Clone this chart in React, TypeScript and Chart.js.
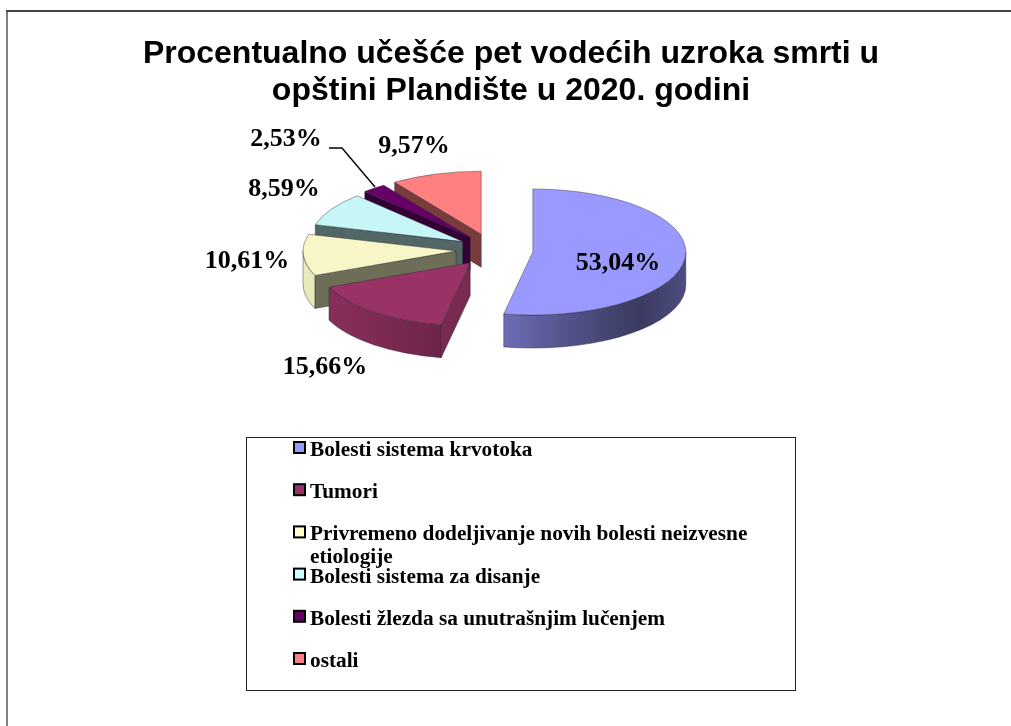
import React, { useEffect, useRef } from "react";
import { Chart, registerables } from "chart.js";

Chart.register(...registerables);

const categories: (string | string[])[] = [
  "Bolesti sistema krvotoka",
  "Tumori",
  ["Privremeno dodeljivanje novih bolesti neizvesne", "etiologije"],
  "Bolesti sistema za disanje",
  "Bolesti žlezda sa unutrašnjim lučenjem",
  "ostali",
];
const shares = [53.04, 15.66, 10.61, 8.59, 2.53, 9.57];
const titleLines = [
  "Procentualno učešće pet vodećih uzroka smrti u",
  "opštini Plandište u 2020. godini",
];
const sliceColors = ["#9999FF", "#993366", "#F8F6C6", "#C6F6F6", "#660066", "#FF8080"];
const swatchColors = ["#9999FF", "#993366", "#FFFFCC", "#CCFFFF", "#660066", "#FF8080"];
const explodeBy = [42, 33, 35, 33, 33, 33];
const edgeWallShade = [0.5, 0.8, 0.43, 0.4, 0.5, 0.47];
const labelAnchors = [
  [618, 263],
  [325, 367],
  [247, 261],
  [284, 189],
  [286, 139],
  [414, 146],
];

const PIE_X = 491;
const PIE_Y = 250;
const TILT = 0.412;
const EXPLODE_TILT = 0.5;
const DEPTH = 33;

const rgb = (hex: string) => [1, 3, 5].map((i) => parseInt(hex.slice(i, i + 2), 16));
const shade = (hex: string, f: number) => {
  const [r, g, b] = rgb(hex);
  return `rgb(${Math.round(r * f)},${Math.round(g * f)},${Math.round(b * f)})`;
};
const fmt = (v: number) => v.toFixed(2).replace(".", ",") + "%";

const pie3d = {
  id: "pie3d",
  beforeDatasetDraw(chart: any) {
    const ctx: CanvasRenderingContext2D = chart.ctx;
    const arcs = chart.getDatasetMeta(0).data;
    for (let i = arcs.length - 1; i >= 0; i--) {
      const arc = arcs[i];
      const color = swatchColors[i];
      const r = arc.outerRadius;
      const a = arc.startAngle;
      const b = arc.endAngle;
      const h = (a + b) / 2;
      const ax = PIE_X + Math.cos(h) * explodeBy[i];
      const ay = PIE_Y + Math.sin(h) * explodeBy[i] * EXPLODE_TILT;
      const px = (t: number) => ax + Math.cos(t) * r;
      const py = (t: number) => ay + Math.sin(t) * r * TILT;
      ctx.save();
      ctx.lineWidth = 0.7;
      ctx.strokeStyle = "rgba(40,40,50,0.65)";
      // flat side walls: only those whose outward normal faces the viewer
      const faces: [number, number][] = [
        [a, a - Math.PI / 2],
        [b, b + Math.PI / 2],
      ];
      faces.forEach(([t, normal]) => {
        if (Math.sin(normal) <= 0.001) return;
        ctx.beginPath();
        ctx.moveTo(ax, ay);
        ctx.lineTo(px(t), py(t));
        ctx.lineTo(px(t), py(t) + DEPTH);
        ctx.lineTo(ax, ay + DEPTH);
        ctx.closePath();
        ctx.fillStyle = shade(color, edgeWallShade[i]);
        ctx.fill();
        ctx.stroke();
      });
      // curved outer wall, only the part that faces the viewer
      const from = Math.max(a, 0);
      const to = Math.min(b, Math.PI);
      if (to > from) {
        const g = ctx.createLinearGradient(ax - r, 0, ax + r, 0);
        g.addColorStop(0, shade(color, 0.92));
        g.addColorStop(0.4, shade(color, 0.72));
        g.addColorStop(0.6, shade(color, 0.55));
        g.addColorStop(0.85, shade(color, 0.38));
        g.addColorStop(1, shade(color, 0.5));
        ctx.beginPath();
        ctx.ellipse(ax, ay, r, r * TILT, 0, from, to);
        ctx.ellipse(ax, ay + DEPTH, r, r * TILT, 0, to, from, true);
        ctx.closePath();
        ctx.fillStyle = g;
        ctx.fill();
        ctx.stroke();
      }
      ctx.restore();
      // the library's own arc, laid flat
      ctx.save();
      ctx.translate(ax, ay);
      ctx.scale(1, TILT);
      ctx.translate(-arc.x, -arc.y);
      arc.draw(ctx);
      ctx.restore();
    }
    return false;
  },
  afterDraw(chart: any) {
    const ctx: CanvasRenderingContext2D = chart.ctx;
    ctx.save();
    // page frame
    ctx.strokeStyle = "#808080";
    ctx.lineWidth = 2;
    ctx.beginPath();
    ctx.moveTo(7, 726);
    ctx.lineTo(7, 10);
    ctx.stroke();
    ctx.strokeStyle = "#444444";
    ctx.beginPath();
    ctx.moveTo(6, 11);
    ctx.lineTo(1011, 11);
    ctx.stroke();

    // percentage labels
    ctx.fillStyle = "#000";
    ctx.font = 'bold 26px "Liberation Serif"';
    ctx.textAlign = "center";
    ctx.textBaseline = "middle";
    shares.forEach((v, i) => ctx.fillText(fmt(v), labelAnchors[i][0], labelAnchors[i][1]));

    // leader line of the small slice
    ctx.strokeStyle = "#000";
    ctx.lineWidth = 1.4;
    ctx.beginPath();
    ctx.moveTo(329, 148);
    ctx.lineTo(342, 148);
    ctx.lineTo(375, 187);
    ctx.stroke();

    // legend
    ctx.strokeStyle = "#222";
    ctx.lineWidth = 1;
    ctx.strokeRect(246.5, 437.5, 549, 253);
    ctx.font = 'bold 21.3px "Liberation Serif"';
    ctx.textAlign = "left";
    ctx.textBaseline = "alphabetic";
    categories.forEach((label, i) => {
      const cy = 447.5 + i * 42.2;
      ctx.fillStyle = swatchColors[i];
      ctx.strokeStyle = "#000";
      ctx.lineWidth = 2;
      ctx.fillRect(294, cy - 5.5, 11, 11);
      ctx.strokeRect(294, cy - 5.5, 11, 11);
      ctx.fillStyle = "#000";
      const lines = Array.isArray(label) ? label : [label];
      lines.forEach((t, k) => ctx.fillText(t, 310, cy + 8.5 + k * 23));
    });
    ctx.restore();
  },
};

export default function App() {
  const ref = useRef<HTMLCanvasElement>(null);
  useEffect(() => {
    const chart = new Chart(ref.current as HTMLCanvasElement, {
      type: "pie",
      data: {
        labels: categories as any,
        datasets: [
          {
            data: shares,
            backgroundColor: sliceColors,
            borderColor: "rgba(40,40,50,0.65)",
            borderWidth: 0.9,
            radius: 153,
          } as any,
        ],
      },
      options: {
        animation: false,
        responsive: false,
        layout: { padding: { left: 11 } },
        plugins: {
          legend: { display: false },
          tooltip: { enabled: false },
          title: {
            display: true,
            text: titleLines,
            color: "#000",
            padding: { top: 36, bottom: 0 },
            font: { family: '"Liberation Sans"', size: 32, weight: "bold", lineHeight: 37 / 32 },
          },
        },
      },
      plugins: [pie3d],
    });
    return () => chart.destroy();
  }, []);
  return (
    <canvas
      ref={ref}
      width={1011}
      height={726}
      style={{ position: "absolute", left: 0, top: 0, display: "block" }}
    />
  );
}
